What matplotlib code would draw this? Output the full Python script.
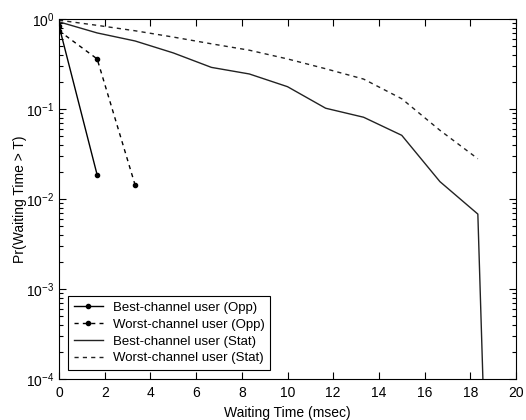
import numpy as np
import matplotlib
matplotlib.use('Agg')
import matplotlib.pyplot as plt
from matplotlib.ticker import LogLocator, NullFormatter, MultipleLocator

plt.rcParams['font.family'] = ['Liberation Sans', 'DejaVu Sans']
plt.rcParams['mathtext.default'] = 'regular'

# Opportunistic scheduling
t_best_opp = [0, 1.67]
p_best_opp = [0.84, 0.0185]
t_worst_opp = [0, 1.67, 3.33]
p_worst_opp = [0.74, 0.36, 0.0143]

# Static scheduling
t_stat = [0, 1.67, 3.33, 5, 6.67, 8.33, 10, 11.67, 13.33, 15, 16.67, 18.33, 20]
p_best_stat = [0.93, 0.70, 0.57, 0.42, 0.29, 0.245, 0.177, 0.102, 0.081, 0.051,
               0.0156, 0.0068, 1e-16]
p_worst_stat = [0.97, 0.85, 0.74, 0.63, 0.53, 0.45, 0.36, 0.28, 0.215, 0.13,
                0.058, 0.028]

fig = plt.figure(figsize=(5.26, 4.2), dpi=100)
ax = fig.add_axes([59/526, 41/420, 457/526, 360/420])

ax.semilogy(t_best_opp, p_best_opp, 'k.-', lw=1, ms=6, label='Best-channel user (Opp)')
ax.semilogy(t_worst_opp, p_worst_opp, 'k.--', lw=1, ms=6, dashes=(3, 3),
            label='Worst-channel user (Opp)')
ax.semilogy(t_stat, p_best_stat, '-', color='#222222', lw=1, label='Best-channel user (Stat)')
ax.semilogy(t_stat[:len(p_worst_stat)], p_worst_stat, '--', color='#222222', lw=1,
            dashes=(3, 3), label='Worst-channel user (Stat)')

ax.set_xlim(0, 20)
ax.set_ylim(1e-4, 1)
ax.xaxis.set_major_locator(MultipleLocator(2))
ax.yaxis.set_major_locator(LogLocator(base=10, numticks=10))
ax.yaxis.set_minor_locator(LogLocator(base=10, subs=np.arange(2, 10), numticks=10))
ax.yaxis.set_minor_formatter(NullFormatter())
ax.tick_params(which='both', direction='in', top=True, right=True, labelsize=10, width=0.8)
ax.tick_params(which='major', length=5)
ax.tick_params(axis='x', pad=5)
ax.tick_params(which='minor', length=3)
for s in ax.spines.values():
    s.set_linewidth(0.8)

ax.set_xlabel('Waiting Time (msec)', fontsize=10, labelpad=4)
ax.set_ylabel('Pr(Waiting Time > T)', fontsize=10, labelpad=-1)

leg = ax.legend(loc='lower left', fontsize=9.5, fancybox=False, framealpha=1,
                edgecolor='black', borderaxespad=0.7, handlelength=2.2,
                labelspacing=0.35, borderpad=0.4, handletextpad=0.8)
leg.get_frame().set_linewidth(0.8)

fig.savefig('out.png', dpi=100)
